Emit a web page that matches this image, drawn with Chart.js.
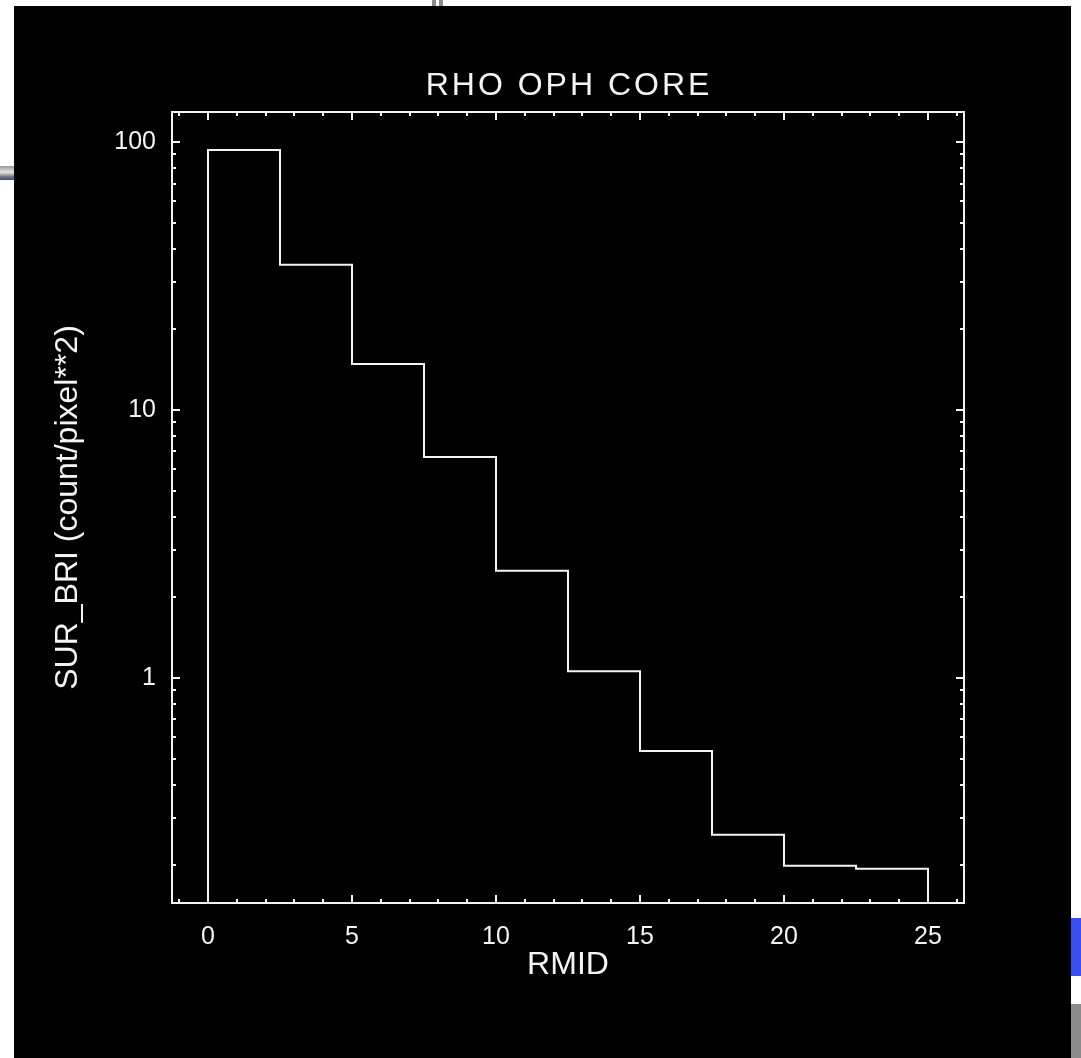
<!DOCTYPE html>
<html>
<head>
<meta charset="utf-8">
<title>RHO OPH CORE</title>
<script src="https://cdn.jsdelivr.net/npm/chart.js@4"></script>
<style>
  html, body { margin: 0; padding: 0; background: #ffffff; width: 1081px; height: 1058px; overflow: hidden; position: relative; }
  #panel { position: absolute; left: 14px; top: 6px; width: 1057px; height: 1052px; background: #000000; }
  #plot { display: block; }
  .scrap { position: absolute; }
</style>
</head>
<body>
<div class="scrap" style="left:0;top:166px;width:14px;height:14px;background:linear-gradient(#9a9a9a,#e6e6e6 45%,#7a7a7a 75%,#33508a);"></div>
<div class="scrap" style="left:432px;top:0;width:4px;height:7px;background:#8c8c8c;"></div>
<div class="scrap" style="left:439px;top:0;width:4px;height:7px;background:#8c8c8c;"></div>
<div class="scrap" style="left:1071px;top:918px;width:10px;height:58px;background:#3b4ff0;"></div>
<div class="scrap" style="left:1071px;top:1004px;width:10px;height:54px;background:#8a8a8a;"></div>
<div id="panel"><canvas id="plot" width="1057" height="1052"></canvas></div>
<script>
// Radial surface-brightness profile, binned in RMID
const rmidEdges = [0, 2.5, 5, 7.5, 10, 12.5, 15, 17.5, 20, 22.5, 25];
const surBri = [93.3, 34.8, 14.85, 6.68, 2.51, 1.06, 0.534, 0.260, 0.199, 0.194];

const xTickValues = [0, 5, 10, 15, 20, 25];
const yTickValues = [1, 10, 100];
const xLimits = [-1.25, 26.25];
const yLimits = [0.1446, 129.4];

const titleText = 'RHO OPH CORE';
const xTitle = 'RMID';
const yTitle = 'SUR_BRI (count/pixel**2)';

const FONT = 'Liberation Sans, Arial, Helvetica, sans-serif';
const INK = '#f4f4f4';

// Histogram outline: rise from the floor at the first edge, step across each bin, drop at the last edge
const histPoints = [{ x: rmidEdges[0], y: yLimits[0] }];
surBri.forEach((v, i) => histPoints.push({ x: rmidEdges[i], y: v }));
histPoints.push({ x: rmidEdges[rmidEdges.length - 1], y: surBri[surBri.length - 1] });
histPoints.push({ x: rmidEdges[rmidEdges.length - 1], y: yLimits[0] });

// Box frame with inward major/minor ticks on all four sides, plus the plot title
const framePlugin = {
  id: 'frameTicks',
  afterDatasetsDraw(chart) {
    const { ctx, chartArea: { left, right, top, bottom }, scales: { x, y } } = chart;
    ctx.save();
    ctx.strokeStyle = INK;
    ctx.lineWidth = 2;
    ctx.strokeRect(left, top, right - left, bottom - top);
    ctx.beginPath();
    for (let v = Math.ceil(x.min); v <= x.max; v++) {
      const px = Math.round(x.getPixelForValue(v));
      const len = v % 5 === 0 ? 8 : 4;
      ctx.moveTo(px, bottom); ctx.lineTo(px, bottom - len);
      ctx.moveTo(px, top); ctx.lineTo(px, top + len);
    }
    const d0 = Math.floor(Math.log10(y.min));
    const d1 = Math.ceil(Math.log10(y.max));
    for (let d = d0; d <= d1; d++) {
      for (let m = 1; m <= 9; m++) {
        const v = m * Math.pow(10, d);
        if (v < y.min || v > y.max) continue;
        const py = Math.round(y.getPixelForValue(v));
        const len = m === 1 ? 8 : 4;
        ctx.moveTo(left, py); ctx.lineTo(left + len, py);
        ctx.moveTo(right, py); ctx.lineTo(right - len, py);
      }
    }
    ctx.stroke();
    ctx.restore();
  },
  afterDraw(chart) {
    const { ctx, chartArea: { left, right, top } } = chart;
    ctx.save();
    ctx.fillStyle = INK;
    ctx.font = '32px ' + FONT;
    ctx.letterSpacing = '3px';
    ctx.textAlign = 'center';
    ctx.textBaseline = 'middle';
    ctx.fillText(titleText, (left + right) / 2 + 1, top - 26);
    ctx.restore();
  }
};

new Chart(document.getElementById('plot'), {
  type: 'line',
  data: {
    datasets: [{
      data: histPoints,
      stepped: 'before',
      borderColor: INK,
      borderWidth: 2,
      pointRadius: 0,
      fill: false
    }]
  },
  options: {
    responsive: false,
    animation: false,
    layout: { padding: { left: 0, top: 106, right: 107, bottom: 0 } },
    plugins: { legend: { display: false }, tooltip: { enabled: false }, title: { display: false } },
    scales: {
      x: {
        type: 'linear',
        position: 'bottom',
        min: xLimits[0],
        max: xLimits[1],
        afterBuildTicks: s => { s.ticks = xTickValues.map(v => ({ value: v })); },
        afterFit: s => { s.height = 155; },
        grid: { display: false, drawTicks: false },
        border: { display: false },
        ticks: {
          color: INK,
          font: { family: FONT, size: 25 },
          padding: 19,
          maxRotation: 0,
          autoSkip: false,
          callback: v => String(v)
        },
        title: {
          display: true,
          text: xTitle,
          color: INK,
          font: { family: FONT, size: 32 },
          padding: { top: 0, bottom: 74 }
        }
      },
      y: {
        type: 'logarithmic',
        position: 'left',
        min: yLimits[0],
        max: yLimits[1],
        afterBuildTicks: s => { s.ticks = yTickValues.map(v => ({ value: v })); },
        afterFit: s => { s.width = 158; },
        grid: { display: false, drawTicks: false },
        border: { display: false },
        ticks: {
          color: INK,
          font: { family: FONT, size: 25 },
          padding: 16,
          autoSkip: false,
          callback: v => String(v)
        },
        title: {
          display: true,
          text: yTitle,
          color: INK,
          font: { family: FONT, size: 32 },
          padding: { top: 35, bottom: 0 }
        }
      }
    }
  },
  plugins: [framePlugin]
});
</script>
</body>
</html>
